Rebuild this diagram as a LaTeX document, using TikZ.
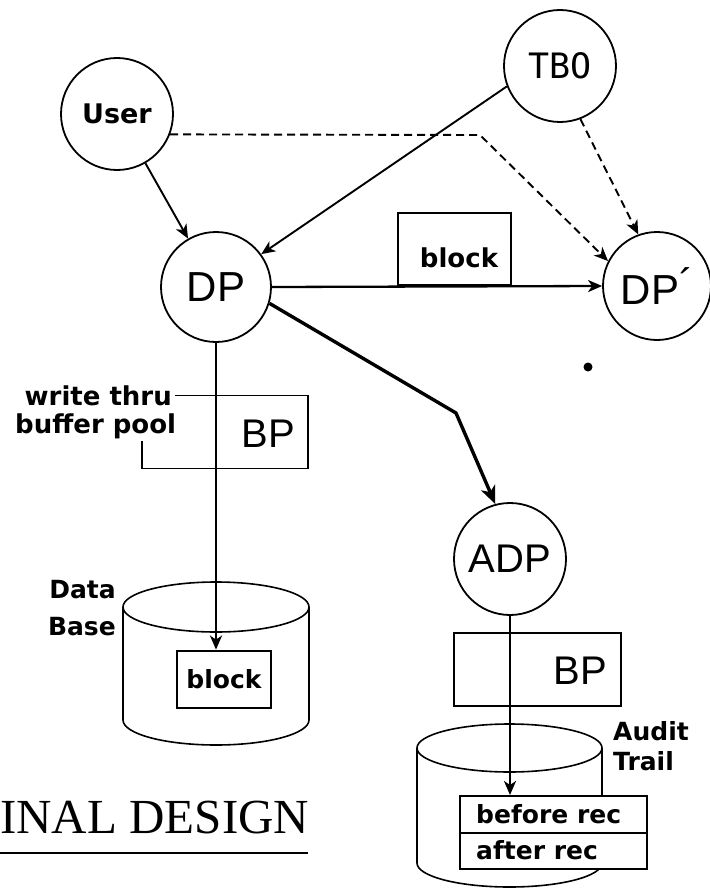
\documentclass[tikz,border=0pt]{standalone}
\usepackage{fontspec}
\setmainfont{Liberation Sans}
\newfontfamily\lblfont{DejaVu Sans}
\newfontfamily\monofont{DejaVu Sans Mono}
\newfontfamily\titlefont{Liberation Serif}
\usetikzlibrary{arrows.meta,shapes.geometric}
\begin{document}
\begin{tikzpicture}[x=1pt,y=-1pt,
  proc/.style={circle,draw,line width=1.8pt,minimum size=#1,inner sep=0pt},
  tip/.style={-{Stealth[length=14pt,width=12pt,inset=4pt]}},
  arr/.style={line width=1.9pt,tip},
  dsh/.style={line width=1.9pt,dash pattern=on 8pt off 5pt,tip},
  lbl/.style={font=\lblfont\bfseries\fontsize{25}{30}\selectfont,inner sep=0pt},
  big/.style={font=\fontsize{42}{48}\selectfont,inner sep=0pt},
  mid/.style={font=\fontsize{40}{46}\selectfont,inner sep=0pt},
  box/.style={draw,line width=1.8pt,fill=white,inner sep=0pt}]
\useasboundingbox (0,0) rectangle (709,888);

% process circles
\node[proc=112pt,lbl,font=\lblfont\bfseries\fontsize{27}{30}\selectfont] (user) at (117,114) {User};
\node[proc=112pt,font=\monofont\fontsize{35}{40}\selectfont] (tbo) at (560,66) {TBO};
\node[proc=110pt,big] (dp) at (216,287) {DP};
\node[proc=108pt,big] (dpp) at (657,286) {DP\raisebox{.15em}{´}};
\node[proc=112pt,mid] (adp) at (510,559) {ADP};

% block box between DP and DP'
\node[box,line width=2.2pt,minimum width=113pt,minimum height=72pt] (blkbox) at (454.5,249) {};
\node[lbl,font=\lblfont\bfseries\fontsize{26}{30}\selectfont] (blktxt) at (459,258) {block};

% write thru buffer pool
\node[lbl,font=\lblfont\bfseries\fontsize{26}{30}\selectfont,anchor=base east] (wt) at (172,405) {write thru};
\node[lbl,font=\lblfont\bfseries\fontsize{26}{30}\selectfont,anchor=base west] (bpool) at (15,433) {buffer pool};
\draw[line width=1.5pt] (wt.east) ++(3,0) -- ++(133,0) -- ++(0,73) -- ++(-166,0) -- ++(0,-27);
\node[mid] (bp1) at (268,434) {BP};

% Data Base cylinder
\draw[line width=1.6pt] (216,607) ellipse [x radius=93, y radius=25];
\draw[line width=1.6pt] (123,607) -- (123,720) arc[start angle=180,end angle=0,x radius=93,y radius=25] -- (309,607);
\node[box,lbl,line width=2.8pt,minimum width=94pt,minimum height=57pt] (blk2) at (224,679.5) {block};
\node[lbl,anchor=base east] (data) at (116,598) {Data};
\node[lbl,anchor=base east] (base) at (116,635) {Base};

% BP of audit
\node[draw,line width=1.5pt,minimum width=167pt,minimum height=73pt,inner sep=0pt] (bp2box) at (537.5,669.5) {};
\node[mid] (bp2) at (580,671) {BP};

% Audit trail cylinder
\draw[line width=1.6pt] (509.5,748) ellipse [x radius=92.5, y radius=24];
\draw[line width=1.6pt] (417,748) -- (417,863) arc[start angle=180,end angle=0,x radius=92.5,y radius=24] -- (602,748);
\node[box,line width=2.4pt,minimum width=187pt,minimum height=37pt,anchor=north west] (rec1) at (459,795) {};
\node[box,line width=2.4pt,minimum width=187pt,minimum height=36pt,anchor=north west] (rec2) at (459,832) {};
\node[lbl,anchor=base west] (before) at (476,823) {before rec};
\node[lbl,anchor=base west] (after) at (476,859) {after rec};
\node[lbl,anchor=base west] (audit) at (613,740) {Audit};
\node[lbl,anchor=base west] (trail) at (613,770) {Trail};

% connectors
\draw[arr] (user.-60) -- (dp.120);
\draw[arr] (tbo.201) -- (dp.36);
\draw[dsh] (user.-21) -- (480,135) -- (dpp.153);
\draw[dsh] (tbo.-69) -- (dpp.110);
\draw[arr,line width=2.3pt] (dp.east) -- (dpp.west);
\draw[line width=3.4pt,-{Stealth[length=18pt,width=15pt,inset=5pt]}] (dp.-17) -- (456,413) -- (adp.105);
\draw[arr,line width=2.6pt] (dp.south) -- (dp.south |- blk2.north);
\draw[arr,line width=2.3pt] (adp.south) -- (adp.south |- rec1.north);

% stray dot
\fill (588,367) circle[radius=4.5];

% title fragment
\node[font=\titlefont\fontsize{49}{55}\selectfont,anchor=base west,inner sep=0pt] (title) at (0,833) {INAL DESIGN};
\draw[line width=2.5pt] (0,853) -- (308,853);
\end{tikzpicture}
\end{document}
